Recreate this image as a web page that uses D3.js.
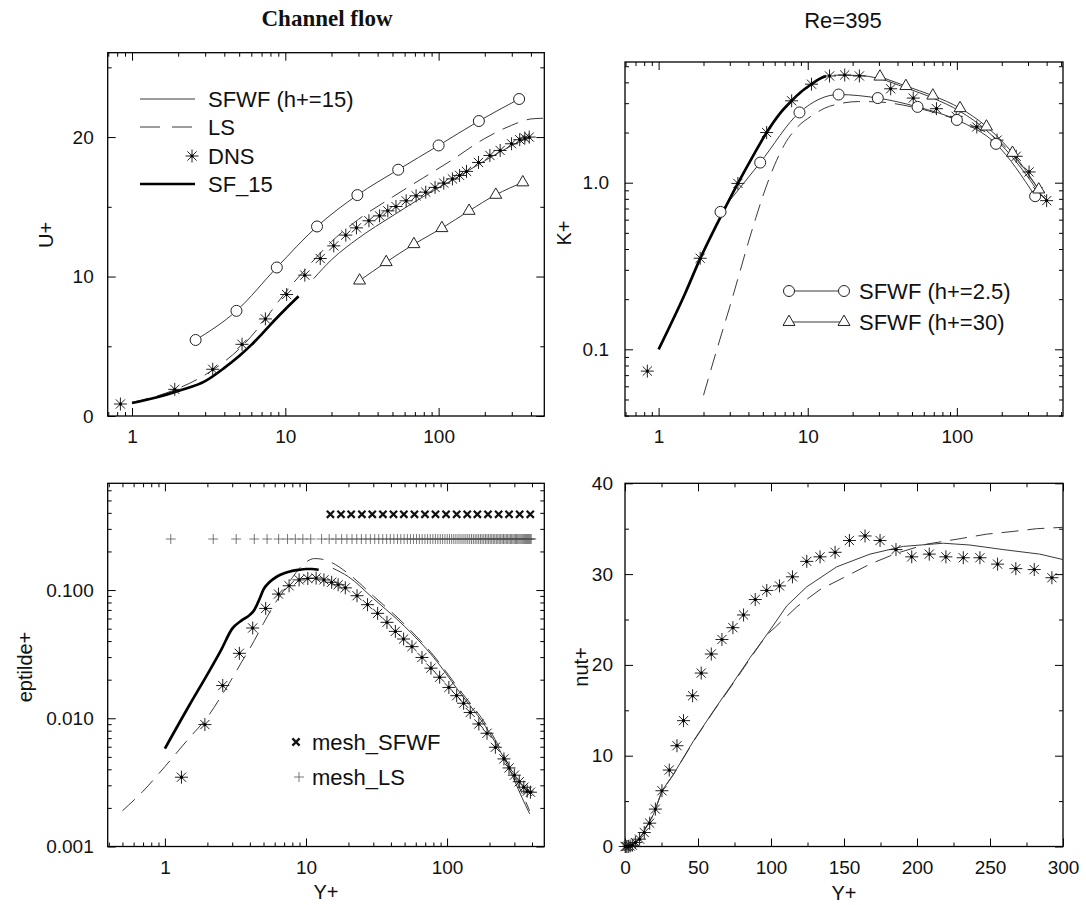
<!DOCTYPE html>
<html>
<head>
<meta charset="utf-8">
<script src="https://cdn.jsdelivr.net/npm/d3@7"></script>
<style>
body { margin: 0; background: #fff; }
svg { display: block; }
</style>
</head>
<body>
<svg id="chart" width="1086" height="905"></svg>
<script>
// ---- U+ panel (top left) ----
const uDnsY = [0.84, 1.9, 3.36, 5.22, 7.41, 10.2, 13.4, 16.9, 20.7, 24.8, 29.1, 35.1, 41.2, 46.6, 52.7, 61.4, 71.3, 82.4, 94.8, 108, 123, 137, 152, 182, 216, 252, 299, 338, 365, 390];
const uDnsV = [0.86, 1.91, 3.35, 5.14, 6.96, 8.71, 10.1, 11.29, 12.2, 12.97, 13.49, 14.0, 14.35, 14.71, 15.02, 15.43, 15.79, 16.05, 16.39, 16.7, 17.0, 17.25, 17.54, 18.18, 18.68, 19.04, 19.52, 19.81, 19.93, 20.0];
const uSf15Y = [1, 1.5, 2, 3, 4, 5, 6, 7, 8, 10, 12.2];
const uSf15V = [0.93, 1.38, 1.8, 2.5, 3.45, 4.3, 5.1, 5.85, 6.55, 7.65, 8.58];
const uLsY = [1, 1.5, 2, 3, 4, 5, 7, 9, 11, 13, 16, 20, 30, 50, 80, 120, 200, 300, 400, 480];
const uLsV = [0.98, 1.48, 1.98, 2.95, 3.9, 4.8, 6.6, 8.2, 9.4, 10.3, 11.4, 12.5, 14.1, 15.7, 17.1, 18.3, 19.9, 20.85, 21.3, 21.35];
const uSfwf15Y = [15.3, 20, 30, 50, 80, 120, 200, 300, 390];
const uSfwf15V = [9.85, 11.2, 12.75, 14.35, 15.75, 16.85, 18.3, 19.4, 20.0];
const uCircY = [2.6, 4.8, 8.8, 16.1, 29.5, 54.5, 100, 183, 335];
const uCircV = [5.45, 7.54, 10.65, 13.59, 15.84, 17.66, 19.4, 21.15, 22.73];
const uTriY = [30.5, 45.5, 69, 105, 158, 236, 354];
const uTriV = [9.71, 11.03, 12.32, 13.47, 14.71, 15.86, 16.75];

// ---- K+ panel (top right) ----
const kDnsY = [0.84, 1.9, 3.4, 5.3, 7.8, 10.6, 14, 17.7, 22.2, 36, 51, 73, 99, 136, 186, 250, 305, 350, 400];
const kDnsV = [0.074, 0.352, 0.99, 2.0, 3.1, 3.9, 4.37, 4.43, 4.37, 3.66, 3.22, 2.78, 2.5, 2.16, 1.8, 1.44, 1.16, 0.88, 0.78];
const kSf15Y = [1, 1.5, 1.9, 2.5, 3.4, 4.3, 5.3, 6.5, 7.8, 9, 10.6, 12, 13.3];
const kSf15V = [0.1, 0.215, 0.35, 0.58, 0.99, 1.45, 2.0, 2.6, 3.1, 3.5, 3.9, 4.2, 4.37];
const kLsY = [2.0, 2.5, 3.0, 3.5, 4.0, 4.5, 5, 6, 7, 8.5, 10.5, 13, 17, 22, 30, 50, 80, 120, 200, 280, 350, 395];
const kLsV = [0.053, 0.105, 0.18, 0.29, 0.44, 0.62, 0.83, 1.28, 1.7, 2.15, 2.5, 2.8, 3.0, 3.07, 3.05, 2.85, 2.55, 2.25, 1.72, 1.22, 0.93, 0.82];
const kSfwf15Y = [15, 22, 30, 45, 69, 105, 158, 236, 300, 354, 395];
const kSfwf15V = [4.42, 4.4, 4.22, 3.72, 3.22, 2.68, 2.06, 1.42, 1.08, 0.88, 0.8];
const kCircY = [2.6, 4.8, 8.8, 16.1, 29.5, 54.5, 100, 183, 335];
const kCircV = [0.668, 1.32, 2.64, 3.38, 3.22, 2.85, 2.38, 1.71, 0.83];
const kTriY = [30.5, 45.5, 69, 105, 158, 236, 354];
const kTriV = [4.33, 3.8, 3.33, 2.8, 2.17, 1.51, 0.91];

// ---- eptilde+ panel (bottom left) ----
const eDnsY = [1.31, 1.92, 2.57, 3.37, 4.19, 5.18, 6.38, 7.59, 8.94, 10.3, 11.8, 13.4, 15.2, 16.9, 19.0, 23.0, 27.3, 32.2, 37.5, 43.0, 49.2, 56.4, 66.4, 76.9, 88.6, 103, 117, 131, 146, 168, 192, 220, 253, 275, 300, 325, 350, 370, 390];
const eDnsV = [0.00347, 0.00893, 0.018, 0.0321, 0.0506, 0.0719, 0.093, 0.108, 0.120, 0.123, 0.124, 0.120, 0.115, 0.110, 0.104, 0.0903, 0.0769, 0.0658, 0.056, 0.0476, 0.0415, 0.0362, 0.0298, 0.0246, 0.0209, 0.0174, 0.015, 0.0131, 0.0111, 0.00903, 0.00764, 0.00594, 0.00482, 0.0041, 0.0036, 0.0032, 0.0029, 0.0027, 0.00265];
const eSf15Y = [1, 1.5, 2, 2.5, 3, 3.5, 4, 4.3, 4.7, 5, 5.5, 6.2, 7, 8, 9, 10, 11, 12.3];
const eSf15V = [0.0058, 0.0128, 0.022, 0.034, 0.05, 0.058, 0.064, 0.070, 0.086, 0.101, 0.115, 0.127, 0.135, 0.141, 0.144, 0.146, 0.146, 0.144];
const eLsY = [0.5, 0.7, 1, 1.5, 2, 2.5, 3, 3.5, 4, 5, 6, 7, 8, 9, 10, 11.5, 13, 15, 20, 30, 50, 80, 120, 200, 280, 340, 385];
const eLsV = [0.0019, 0.0027, 0.0042, 0.0071, 0.0102, 0.0148, 0.0205, 0.0275, 0.035, 0.055, 0.078, 0.1, 0.125, 0.148, 0.165, 0.176, 0.174, 0.165, 0.134, 0.09, 0.054, 0.031, 0.0172, 0.0081, 0.0041, 0.0026, 0.0019];
const eSfwf15Y = [15.5, 20, 30, 50, 80, 120, 200, 280, 340, 385];
const eSfwf15V = [0.148, 0.127, 0.086, 0.052, 0.03, 0.0165, 0.0077, 0.0039, 0.0024, 0.0018];
const meshSfwfY = [14.9, 17.7, 20.9, 24.9, 29.5, 35.1, 41.7, 49.4, 58.7, 69.7, 82.8, 98.4, 117, 139, 164, 195, 232, 275, 327, 389];
const meshSfwfLevel = 0.39;
const meshLsY = [1.1, 2.2, 3.2, 4.3, 5.3, 6.4, 7.4, 8.4, 9.5, 10.8, 12.9, 14.6, 16.3, 17.9, 19.5, 21.2, 22.9, 24.7, 26.6, 28.6, 30.7, 32.8, 35, 37.3, 39.6, 42, 44.5, 47, 49.6, 52.3, 55, 57.8, 60.7, 63.6, 66.6, 69.7, 72.8, 76, 79.3, 82.6, 86, 89.5, 93, 96.6, 100.3, 104, 107.8, 111.6, 115.5, 119.5, 123.5, 127.6, 131.8, 136, 140.3, 144.7, 149.1, 153.6, 158.2, 162.8, 167.5, 172.3, 177.1, 182, 187, 192, 197.1, 202.2, 207.4, 212.7, 218, 223.4, 228.9, 234.4, 240, 245.7, 251.4, 257.2, 263, 269, 275, 281, 287, 293, 299, 305, 311, 317, 323, 329, 335, 341, 347, 353, 359, 365, 371, 377, 383, 389, 395];
const meshLsLevel = 0.25;

// ---- nut+ panel (bottom right) ----
const nDnsY = [0.1, 0.6, 1.3, 2.3, 3.5, 5, 7.1, 10, 13.2, 16.9, 20.8, 25.3, 30.3, 35.6, 40.1, 46.3, 52.2, 59.1, 66.4, 73.9, 81.2, 89.2, 97.1, 105.8, 114.7, 124.5, 133.6, 143.9, 153.7, 164.4, 174.7, 185.6, 196.4, 208.4, 219.8, 231.7, 243.1, 255.2, 267.7, 280.3, 292.4];
const nDnsV = [0, 0, 0, 0.02, 0.06, 0.15, 0.44, 0.81, 1.54, 2.57, 4.12, 6.14, 8.42, 11.1, 13.86, 16.6, 19.1, 21.2, 22.8, 24.1, 25.5, 27.2, 28.2, 28.7, 29.7, 31.4, 31.9, 32.4, 33.7, 34.2, 33.7, 32.7, 31.9, 32.2, 31.9, 31.8, 31.8, 31.1, 30.6, 30.5, 29.6];
const nSfwfY = [0, 5, 10.5, 19.6, 25.3, 33.3, 47, 60.7, 74.3, 85.7, 98.3, 110.8, 124.5, 145, 167.8, 190.6, 218, 236.3, 259, 284.1, 300];
const nSfwfV = [0, 0.2, 1.0, 3.57, 6.14, 7.98, 11.65, 14.96, 18.1, 20.8, 23.6, 26.5, 28.6, 30.8, 32.2, 33.05, 33.4, 33.2, 32.7, 32.2, 31.6];
const nLsY = [0, 5, 10.5, 19.6, 25.3, 33.3, 47, 60.7, 74.3, 85.7, 97, 102.9, 117.7, 133.6, 149.6, 167.8, 186.1, 206.6, 229.4, 247.7, 265.9, 281.9, 300];
const nLsV = [0, 0.2, 1.0, 3.5, 6.1, 7.95, 11.6, 14.9, 18.0, 20.7, 23.3, 24.15, 26.4, 28.3, 29.6, 31.1, 32.3, 33.3, 33.9, 34.4, 34.7, 35.0, 35.15];

// tick labels
const logMajor = [1, 10, 100];
const uMajor = [0, 10, 20], uMinor = [5, 15, 25];
const kMajor = [0.1, 1];
const eMajor = [0.001, 0.01, 0.1];
const nxMajor = [0, 50, 100, 150, 200, 250, 300], nxMinor = [25, 75, 125, 175, 225, 275];
const nyMajor = [0, 10, 20, 30, 40], nyMinor = [5, 15, 25, 35];

const FONT = "'Liberation Sans', Arial, Helvetica, sans-serif";
const svg = d3.select("#chart");

function pairs(xs, vs) { return xs.map((d, i) => [d, vs[i]]); }

function logMinor(scale) {
    return scale.ticks().filter(v => Math.abs(Math.log10(v) - Math.round(Math.log10(v))) > 1e-6);
}

function addTicks(g, axisFn, scale, tr, major, minor, fmt, pad) {
    g.append("g").attr("transform", tr)
        .call(axisFn(scale).tickValues(major).tickSizeInner(-8).tickSizeOuter(0)
            .tickPadding(pad || 14).tickFormat(fmt || (() => "")));
    g.append("g").attr("transform", tr)
        .call(axisFn(scale).tickValues(minor).tickSizeInner(-4).tickSizeOuter(0).tickFormat(() => ""));
}

function drawFrame(x, y, o) {
    const g = svg.append("g");
    const [l, r] = x.range(), [b, t] = y.range();
    addTicks(g, d3.axisBottom, x, `translate(0,${b})`, o.xMajor, o.xMinor, o.xFmt, 14);
    addTicks(g, d3.axisTop, x, `translate(0,${t})`, o.xMajor, o.xMinor, null);
    addTicks(g, d3.axisLeft, y, `translate(${l},0)`, o.yMajor, o.yMinor, o.yFmt, o.yPad || 14);
    addTicks(g, d3.axisRight, y, `translate(${r},0)`, o.yMajor, o.yMinor, null);
    g.selectAll(".domain").remove();
    g.selectAll(".tick line").attr("stroke", "#000").attr("stroke-width", 1);
    g.selectAll(".tick text").attr("font-size", 19).attr("font-family", FONT).attr("fill", "#111");
    g.append("rect").attr("x", l).attr("y", t).attr("width", r - l).attr("height", b - t)
        .attr("fill", "none").attr("stroke", "#000").attr("stroke-width", 1.3);
    return g;
}

function addLine(g, x, y, xs, vs, style, curve) {
    const line = d3.line().x(d => x(d[0])).y(d => y(d[1])).curve(curve || d3.curveMonotoneX);
    g.append("path").datum(pairs(xs, vs))
        .attr("d", line)
        .attr("fill", "none")
        .attr("stroke", style.color || "#333")
        .attr("stroke-width", style.width || 1)
        .attr("stroke-dasharray", style.dash || null);
}

const starPath = "M0,-6.5V6.5M-6.5,0H6.5M-4.6,-4.6L4.6,4.6M-4.6,4.6L4.6,-4.6";
const crossPath = "M-3.6,-3.6L3.6,3.6M-3.6,3.6L3.6,-3.6";
const plusPath = "M-5,0H5M0,-5V5";
const triPath = d3.symbol().type(d3.symbolTriangle).size(62)();

function addStars(g, x, y, xs, vs) {
    const data = pairs(xs, vs);
    g.selectAll(null).data(data).join("path")
        .attr("transform", d => `translate(${x(d[0])},${y(d[1])})`)
        .attr("d", starPath).attr("stroke", "#222").attr("stroke-width", 1).attr("fill", "none");
    g.selectAll(null).data(data).join("circle")
        .attr("cx", d => x(d[0])).attr("cy", d => y(d[1])).attr("r", 1.6).attr("fill", "#000");
}

function addCircles(g, x, y, xs, vs) {
    g.selectAll(null).data(pairs(xs, vs)).join("circle")
        .attr("cx", d => x(d[0])).attr("cy", d => y(d[1])).attr("r", 5.5)
        .attr("fill", "#fff").attr("stroke", "#222").attr("stroke-width", 1);
}

function addTriangles(g, x, y, xs, vs) {
    g.selectAll(null).data(pairs(xs, vs)).join("path")
        .attr("transform", d => `translate(${x(d[0])},${y(d[1])})`)
        .attr("d", triPath).attr("fill", "#fff").attr("stroke", "#222").attr("stroke-width", 1);
}

function addLabel(text, px, py, rotate, size) {
    svg.append("text").attr("x", 0).attr("y", 0)
        .attr("transform", `translate(${px},${py})` + (rotate ? " rotate(-90)" : ""))
        .attr("text-anchor", "middle").attr("dominant-baseline", "central")
        .attr("font-family", FONT).attr("font-size", size || 20).attr("fill", "#111")
        .text(text);
}

function legendText(g, text, px, py) {
    g.append("text").attr("x", px).attr("y", py).attr("dominant-baseline", "central")
        .attr("font-family", FONT).attr("font-size", 22).attr("fill", "#111").text(text);
}

const thin = { color: "#3a3a3a", width: 1 };
const dashed = { color: "#3a3a3a", width: 1, dash: "17,9" };
const thick = { color: "#000", width: 2.7 };

// ===== top left: U+ =====
const xU = d3.scaleLog().domain([0.694, 489]).range([107.7, 544.3]);
const yU = d3.scaleLinear().domain([0, 26.05]).range([416, 52.7]);
drawFrame(xU, yU, { xMajor: logMajor, xMinor: logMinor(xU), xFmt: d3.format("d"), yMajor: uMajor, yMinor: uMinor, yFmt: d3.format("d") });
const gU = svg.append("g");
addLine(gU, xU, yU, uLsY, uLsV, dashed);
addLine(gU, xU, yU, uSfwf15Y, uSfwf15V, thin);
addLine(gU, xU, yU, uCircY, uCircV, thin);
addLine(gU, xU, yU, uTriY, uTriV, thin);
addLine(gU, xU, yU, uSf15Y, uSf15V, thick);
addStars(gU, xU, yU, uDnsY, uDnsV);
addCircles(gU, xU, yU, uCircY, uCircV);
addTriangles(gU, xU, yU, uTriY, uTriV);
// legend
const lg1 = svg.append("g");
lg1.append("line").attr("x1", 140).attr("x2", 195).attr("y1", 99).attr("y2", 99).attr("stroke", "#3a3a3a");
lg1.append("line").attr("x1", 140).attr("x2", 195).attr("y1", 127).attr("y2", 127).attr("stroke", "#3a3a3a").attr("stroke-dasharray", "20,12");
lg1.append("path").attr("transform", "translate(192,156)").attr("d", starPath).attr("stroke", "#222").attr("fill", "none");
lg1.append("circle").attr("cx", 192).attr("cy", 156).attr("r", 1.6).attr("fill", "#000");
lg1.append("line").attr("x1", 140).attr("x2", 195).attr("y1", 184).attr("y2", 184).attr("stroke", "#000").attr("stroke-width", 2.7);
legendText(lg1, "SFWF (h+=15)", 208, 99);
legendText(lg1, "LS", 208, 127);
legendText(lg1, "DNS", 208, 156);
legendText(lg1, "SF_15", 208, 184);

// ===== top right: K+ =====
const xK = d3.scaleLog().domain([0.595, 515]).range([625, 1063]);
const yK = d3.scaleLog().domain([0.0398, 5.3]).range([416, 62]);
drawFrame(xK, yK, { xMajor: logMajor, xMinor: logMinor(xK), xFmt: d3.format("d"), yMajor: kMajor, yMinor: logMinor(yK), yFmt: d => d.toFixed(1), yPad: 16 });
const gK = svg.append("g");
addLine(gK, xK, yK, kLsY, kLsV, dashed);
addLine(gK, xK, yK, kSfwf15Y, kSfwf15V, thin);
addLine(gK, xK, yK, kCircY, kCircV, thin);
addLine(gK, xK, yK, kTriY, kTriV, thin);
addLine(gK, xK, yK, kSf15Y, kSf15V, thick);
addStars(gK, xK, yK, kDnsY, kDnsV);
addCircles(gK, xK, yK, kCircY, kCircV);
addTriangles(gK, xK, yK, kTriY, kTriV);
const lg2 = svg.append("g");
lg2.append("line").attr("x1", 789).attr("x2", 844).attr("y1", 291).attr("y2", 291).attr("stroke", "#3a3a3a");
lg2.append("line").attr("x1", 789).attr("x2", 844).attr("y1", 322).attr("y2", 322).attr("stroke", "#3a3a3a");
addCircles(lg2, d => d, d => d, [789, 844], [291, 291]);
addTriangles(lg2, d => d, d => d, [789, 844], [322, 322]);
legendText(lg2, "SFWF (h+=2.5)", 859, 291);
legendText(lg2, "SFWF (h+=30)", 859, 322);

// ===== bottom left: eptilde+ =====
const xE = d3.scaleLog().domain([0.393, 489]).range([107.7, 544.3]);
const yE = d3.scaleLog().domain([0.001, 0.68]).range([846.5, 483.3]);
drawFrame(xE, yE, { xMajor: logMajor, xMinor: logMinor(xE), xFmt: d3.format("d"), yMajor: eMajor, yMinor: logMinor(yE), yFmt: d => d.toFixed(3) });
const gE = svg.append("g");
gE.selectAll(null).data(meshLsY).join("path")
    .attr("transform", d => `translate(${xE(d)},${yE(meshLsLevel)})`)
    .attr("d", plusPath).attr("stroke", "#555").attr("stroke-width", 0.8);
gE.selectAll(null).data(meshSfwfY).join("path")
    .attr("transform", d => `translate(${xE(d)},${yE(meshSfwfLevel)})`)
    .attr("d", crossPath).attr("stroke", "#111").attr("stroke-width", 2.2);
addLine(gE, xE, yE, eLsY, eLsV, dashed);
addLine(gE, xE, yE, eSfwf15Y, eSfwf15V, thin);
addLine(gE, xE, yE, eSf15Y, eSf15V, thick);
addStars(gE, xE, yE, eDnsY, eDnsV);
const lg3 = svg.append("g");
lg3.append("path").attr("transform", "translate(296,742)").attr("d", crossPath).attr("stroke", "#111").attr("stroke-width", 2.2);
lg3.append("path").attr("transform", "translate(299,777)").attr("d", plusPath).attr("stroke", "#555").attr("stroke-width", 0.8);
legendText(lg3, "mesh_SFWF", 312, 742);
legendText(lg3, "mesh_LS", 312, 777);

// ===== bottom right: nut+ =====
const xN = d3.scaleLinear().domain([0, 300]).range([625, 1063]);
const yN = d3.scaleLinear().domain([0, 40]).range([846.5, 483.3]);
drawFrame(xN, yN, { xMajor: nxMajor, xMinor: nxMinor, xFmt: d3.format("d"), yMajor: nyMajor, yMinor: nyMinor, yFmt: d3.format("d"), yPad: 12 });
const gN = svg.append("g");
addLine(gN, xN, yN, nLsY, nLsV, dashed, d3.curveLinear);
addLine(gN, xN, yN, nSfwfY, nSfwfV, thin, d3.curveLinear);
addStars(gN, xN, yN, nDnsY, nDnsV);

// ===== titles and axis labels =====
svg.append("text").attr("x", 327).attr("y", 26).attr("text-anchor", "middle")
    .attr("font-family", "'Liberation Serif', 'Times New Roman', serif").attr("font-weight", "bold")
    .attr("font-size", 23).attr("fill", "#111").text("Channel flow");
svg.append("text").attr("x", 843).attr("y", 28).attr("text-anchor", "middle")
    .attr("font-family", FONT).attr("font-size", 22).attr("fill", "#111").text("Re=395");
addLabel("U+", 46, 235, true);
addLabel("K+", 564, 233, true);
addLabel("eptilde+", 25, 667, true);
addLabel("nut+", 581, 667, true);
addLabel("Y+", 326, 892, false);
addLabel("Y+", 844, 893, false);
</script>
</body>
</html>
